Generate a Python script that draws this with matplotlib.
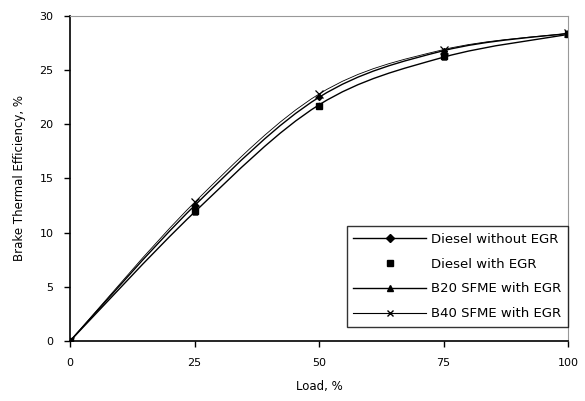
import matplotlib
matplotlib.use("Agg")
import matplotlib.pyplot as plt
from matplotlib.lines import Line2D
from matplotlib.path import Path
from matplotlib.patches import PathPatch

LOAD = [0, 25, 50, 75, 100]
DIESEL_NO_EGR = [0, 12.5, 22.5, 26.8, 28.4]
DIESEL_EGR = [0, 12.0, 21.7, 26.3, 28.3]
B20_EGR = [0, 11.9, 21.8, 26.2, 28.3]
B40_EGR = [0, 12.8, 22.8, 26.9, 28.4]

LABELS = ["Diesel without EGR", "Diesel with EGR",
          "B20 SFME with EGR", "B40 SFME with EGR"]
X_TICKS = [0, 25, 50, 75, 100]
Y_TICKS = [0, 5, 10, 15, 20, 25, 30]


def _smooth_path(xs, ys):
    # Excel-style smoothed line: Catmull-Rom segments as cubic Beziers
    pts = list(zip(xs, ys))
    verts = [pts[0]]
    codes = [Path.MOVETO]
    n = len(pts)
    for i in range(n - 1):
        p0 = pts[max(i - 1, 0)]
        p1 = pts[i]
        p2 = pts[i + 1]
        p3 = pts[min(i + 2, n - 1)]
        c1 = (p1[0] + (p2[0] - p0[0]) / 6, p1[1] + (p2[1] - p0[1]) / 6)
        c2 = (p2[0] - (p3[0] - p1[0]) / 6, p2[1] - (p3[1] - p1[1]) / 6)
        verts += [c1, c2, p2]
        codes += [Path.CURVE4] * 3
    return Path(verts, codes)


plt.rcParams["font.family"] = ["DejaVu Sans"]

fig = plt.figure(figsize=(5.85, 4.01), dpi=100, facecolor="white")
ax = fig.add_axes([0.12, 0.150, 0.851, 0.810])

for ys, lw in [(DIESEL_NO_EGR, 1.0), (B20_EGR, 1.0), (B40_EGR, 0.6)]:
    ax.add_patch(PathPatch(_smooth_path(LOAD, ys), facecolor="none",
                           edgecolor="black", linewidth=lw))

ax.plot(LOAD, DIESEL_NO_EGR, ls="none", marker="D", ms=3, color="black")
ax.plot(LOAD, DIESEL_EGR, ls="none", marker="s", ms=4, color="black")
ax.plot(LOAD, B20_EGR, ls="none", marker="^", ms=3.5, color="black")
ax.plot(LOAD, B40_EGR, ls="none", marker="x", ms=6, mew=0.9, color="black")

ax.set_xlim(0, 100)
ax.set_ylim(0, 30)
ax.set_xticks(X_TICKS)
ax.set_yticks(Y_TICKS)
ax.tick_params(direction="out", length=4, width=1, labelsize=8,
               colors="black")
ax.tick_params(axis="x", pad=8)
ax.tick_params(axis="y", pad=8)
ax.set_xlabel("Load, %", fontsize=8.5, labelpad=9)
ax.set_ylabel("Brake Thermal Efficiency, %", fontsize=8.5, labelpad=10)

ax.spines["left"].set_color("black")
ax.spines["bottom"].set_color("black")
ax.spines["left"].set_linewidth(1.2)
ax.spines["bottom"].set_linewidth(1.2)
ax.spines["top"].set_color("#999999")
ax.spines["right"].set_color("#999999")

handles = [
    Line2D([], [], color="black", lw=1, marker="D", ms=4),
    Line2D([], [], color="black", ls="none", marker="s", ms=4),
    Line2D([], [], color="black", lw=1, marker="^", ms=5),
    Line2D([], [], color="black", lw=0.8, marker="x", ms=5),
]
leg = ax.legend(handles, LABELS, loc="lower right",
                bbox_to_anchor=(1.0, 0.043), fontsize=9.5, frameon=True,
                fancybox=False, edgecolor="black", handlelength=5.5,
                handletextpad=0.4, borderpad=0.5, labelspacing=0.9,
                borderaxespad=0)
leg.get_frame().set_linewidth(1)

fig.savefig("out.png", dpi=100, facecolor="white")
